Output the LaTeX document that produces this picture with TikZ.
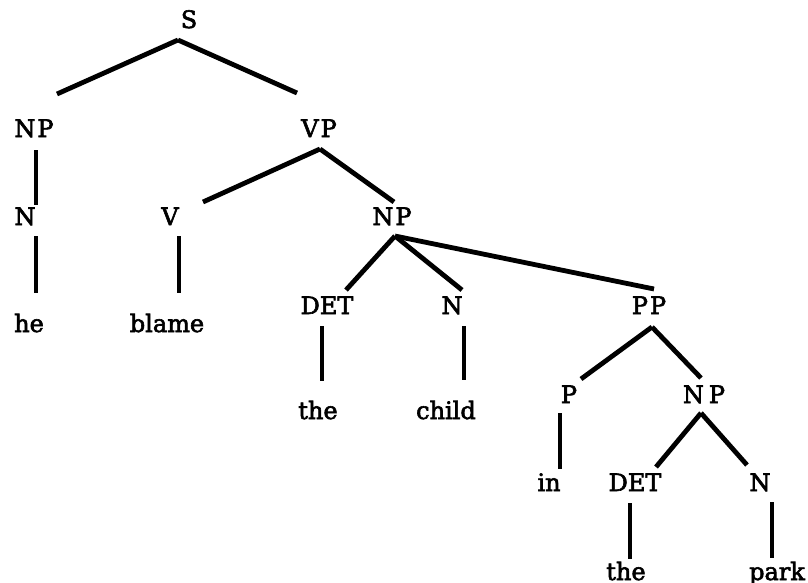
\documentclass[tikz,border=0pt]{standalone}
\usepackage{fontspec}
\setmainfont[FakeBold=2.5]{DejaVu Serif}
\begin{document}
\begin{tikzpicture}[x=0.5pt,y=-0.5pt,
  lbl/.style={anchor=base,inner sep=0pt,font=\fontsize{12}{14}\selectfont},
  branch/.style={line width=2.4pt}]
\useasboundingbox (0,0) rectangle (808,583);

% labels (placed on their baselines)
\node[lbl] (S)     at (189,28)  {S};
\node[lbl] (NP1)   at (34,137)  {N\kern1pt P};
\node[lbl] (VP)    at (319,137) {V\kern1pt P};
\node[lbl] (N1)    at (25,225)  {N};
\node[lbl] (V)     at (170,225) {V};
\node[lbl] (NP2)   at (392,225) {N\kern1pt P};
\node[lbl] (he)    at (29,332)  {he};
\node[lbl] (blame) at (167,332) {blame};
\node[lbl] (DET1)  at (327,314) {DET};
\node[lbl] (N2)    at (452,314) {N};
\node[lbl] (PP)    at (649,314) {P\kern1pt P};
\node[lbl] (the1)  at (318,419) {the};
\node[lbl] (child) at (446,419) {child};
\node[lbl] (P)     at (569,403) {P};
\node[lbl] (NP3)   at (704,403) {N\kern2.5pt P};
\node[lbl] (in)    at (549,491) {in};
\node[lbl] (DET2)  at (635,491) {DET};
\node[lbl] (N3)    at (760,491) {N};
\node[lbl] (the2)  at (626,580) {the};
\node[lbl] (park)  at (777,580) {park};

% attachment points of the branches
\coordinate (S-b)     at (178,40);
\coordinate (NP1-t)   at (57,94);
\coordinate (NP1-b)   at (36,150);
\coordinate (VP-t)    at (297,93);
\coordinate (VP-b)    at (320,149);
\coordinate (N1-t)    at (36,205);
\coordinate (N1-b)    at (36,236);
\coordinate (V-t)     at (203,202);
\coordinate (V-b)     at (179,236);
\coordinate (NP2-t)   at (394,202);
\coordinate (NP2-b)   at (395,236);
\coordinate (he-t)    at (36,293);
\coordinate (blame-t) at (179,293);
\coordinate (DET1-t)  at (346,290);
\coordinate (DET1-b)  at (322,326);
\coordinate (N2-t)    at (462,290);
\coordinate (N2-b)    at (464,326);
\coordinate (PP-t)    at (654,289);
\coordinate (PP-b)    at (652,327);
\coordinate (the1-t)  at (322,381);
\coordinate (child-t) at (464,380);
\coordinate (P-t)     at (581,379);
\coordinate (P-b)     at (560,413);
\coordinate (NP3-t)   at (701,378);
\coordinate (NP3-b)   at (701,413);
\coordinate (in-t)    at (560,469);
\coordinate (DET2-t)  at (656,467);
\coordinate (DET2-b)  at (630,503);
\coordinate (N3-t)    at (747,465);
\coordinate (N3-b)    at (772,502);
\coordinate (the2-t)  at (630,559);
\coordinate (park-t)  at (772,558);

% branches
\draw[branch] (S-b) -- (NP1-t);
\draw[branch] (S-b) -- (VP-t);
\draw[branch] (NP1-b) -- (N1-t);
\draw[branch] (N1-b) -- (he-t);
\draw[branch] (VP-b) -- (V-t);
\draw[branch] (VP-b) -- (NP2-t);
\draw[branch] (V-b) -- (blame-t);
\draw[branch] (NP2-b) -- (DET1-t);
\draw[branch] (NP2-b) -- (N2-t);
\draw[branch] (NP2-b) -- (PP-t);
\draw[branch] (DET1-b) -- (the1-t);
\draw[branch] (N2-b) -- (child-t);
\draw[branch] (PP-b) -- (P-t);
\draw[branch] (PP-b) -- (NP3-t);
\draw[branch] (P-b) -- (in-t);
\draw[branch] (NP3-b) -- (DET2-t);
\draw[branch] (NP3-b) -- (N3-t);
\draw[branch] (DET2-b) -- (the2-t);
\draw[branch] (N3-b) -- (park-t);
\end{tikzpicture}
\end{document}
